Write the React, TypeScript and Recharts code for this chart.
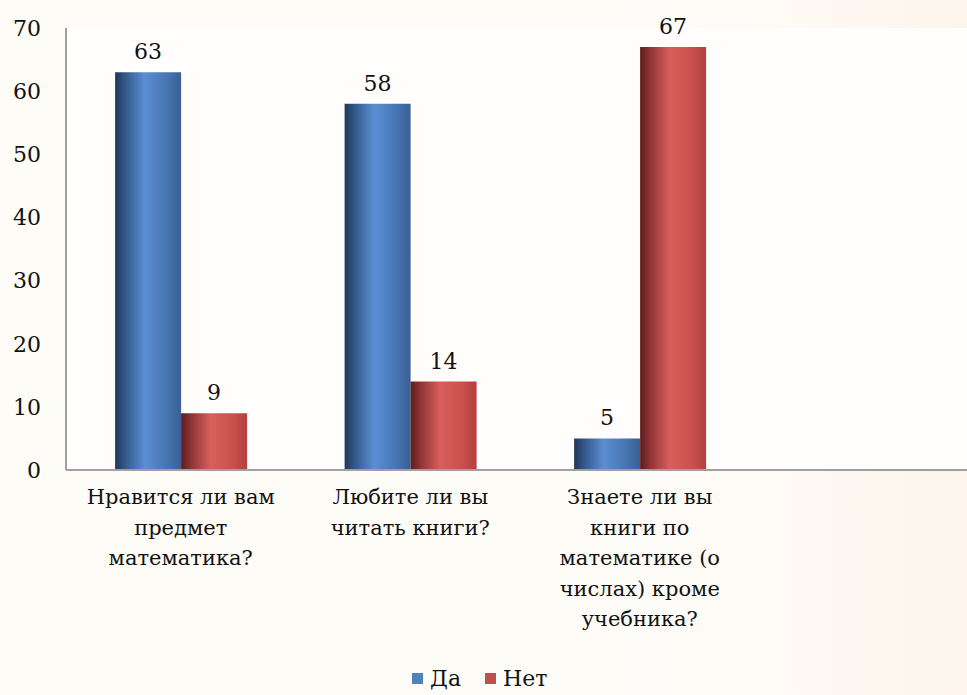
import React from "react";
import { BarChart, Bar, XAxis, YAxis, LabelList, Legend, CartesianGrid } from "recharts";

const categories = ["q1", "q2", "q3", "q4"];
const categoryLines: string[][] = [
  ["Нравится ли вам", "предмет", "математика?"],
  ["Любите ли вы", "читать книги?"],
  ["Знаете ли вы", "книги по", "математике (о", "числах) кроме", "учебника?"],
  [],
];
const yesValues: (number | null)[] = [63, 58, 5, null];
const noValues: (number | null)[] = [9, 14, 67, null];
const yTicks = [0, 10, 20, 30, 40, 50, 60, 70];
const seriesNames = ["Да", "Нет"];

const data = categories.map((c, i) => ({ key: c, yes: yesValues[i], no: noValues[i] }));

const FONT = "'DejaVu Serif', 'Liberation Serif', serif";

const CategoryTick = (props: any) => {
  const { x, y, payload } = props;
  const idx = categories.indexOf(payload.value);
  const lines = categoryLines[idx] || [];
  return (
    <text x={x} y={y} textAnchor="middle" fontFamily={FONT} fontSize={21} fill="#111">
      {lines.map((l, i) => (
        <tspan key={i} x={x} y={y + 34 + i * 30.5}>
          {l}
        </tspan>
      ))}
    </text>
  );
};

const ValueTick = (props: any) => {
  const { x, y, payload } = props;
  return (
    <text x={x} y={y} dy="0.36em" textAnchor="end" fontFamily={FONT} fontSize={22} fill="#111">
      {payload.value}
    </text>
  );
};

const LegendContent = () => (
  <div style={{ display: "flex", alignItems: "center", fontFamily: FONT, fontSize: 22, color: "#111" }}>
    <span style={{ width: 11, height: 11, background: "#4f81bd", display: "inline-block", marginRight: 7 }} />
    <span style={{ marginRight: 24 }}>{seriesNames[0]}</span>
    <span style={{ width: 11, height: 11, background: "#c0504d", display: "inline-block", marginRight: 7 }} />
    <span>{seriesNames[1]}</span>
  </div>
);

export default function App() {
  return (
    <div
      style={{
        position: "absolute",
        top: 0,
        left: 0,
        width: 967,
        height: 695,
        overflow: "hidden",
        fontFamily: FONT,
        background: "linear-gradient(90deg, #fefcf7 0%, #fefcf8 70%, #fdf5ec 100%)",
      }}
    >
      <BarChart
        width={1000}
        height={695}
        data={data}
        margin={{ top: 28, right: 16, left: 0, bottom: 0 }}
        barCategoryGap="21.4%"
        barGap={0}
      >
        <defs>
          <linearGradient id="gBlue" x1="0" y1="0" x2="1" y2="0">
            <stop offset="0%" stopColor="#1f3658" />
            <stop offset="15%" stopColor="#34578a" />
            <stop offset="45%" stopColor="#5b8fd2" />
            <stop offset="80%" stopColor="#4673b0" />
            <stop offset="100%" stopColor="#3a5f94" />
          </linearGradient>
          <linearGradient id="gRed" x1="0" y1="0" x2="1" y2="0">
            <stop offset="0%" stopColor="#5e1c1c" />
            <stop offset="15%" stopColor="#8e3434" />
            <stop offset="45%" stopColor="#d95f5d" />
            <stop offset="80%" stopColor="#c94f4d" />
            <stop offset="100%" stopColor="#b0403f" />
          </linearGradient>
        </defs>
        <CartesianGrid horizontal={false} vertical={false} fill="#fffefc" />
        <XAxis
          dataKey="key"
          height={225}
          tickLine={false}
          tickSize={0}
          tickMargin={0}
          interval={0}
          axisLine={{ stroke: "#a0a0a0", strokeWidth: 2 }}
          tick={<CategoryTick />}
        />
        <YAxis
          width={66}
          domain={[0, 70]}
          ticks={yTicks}
          tickLine={false}
          tickSize={0}
          tickMargin={25}
          axisLine={{ stroke: "#a0a0a0", strokeWidth: 2 }}
          tick={<ValueTick />}
        />
        <Legend
          layout="horizontal"
          verticalAlign="middle"
          align="center"
          wrapperStyle={{ top: 666, left: 412, width: 170 }}
          content={<LegendContent />}
        />
        <Bar dataKey="yes" name={seriesNames[0]} fill="url(#gBlue)" isAnimationActive={false}>
          <LabelList dataKey="yes" position="top" offset={13} fontFamily={FONT} fontSize={22} fill="#111" />
        </Bar>
        <Bar dataKey="no" name={seriesNames[1]} fill="url(#gRed)" isAnimationActive={false}>
          <LabelList dataKey="no" position="top" offset={13} fontFamily={FONT} fontSize={22} fill="#111" />
        </Bar>
      </BarChart>
    </div>
  );
}
